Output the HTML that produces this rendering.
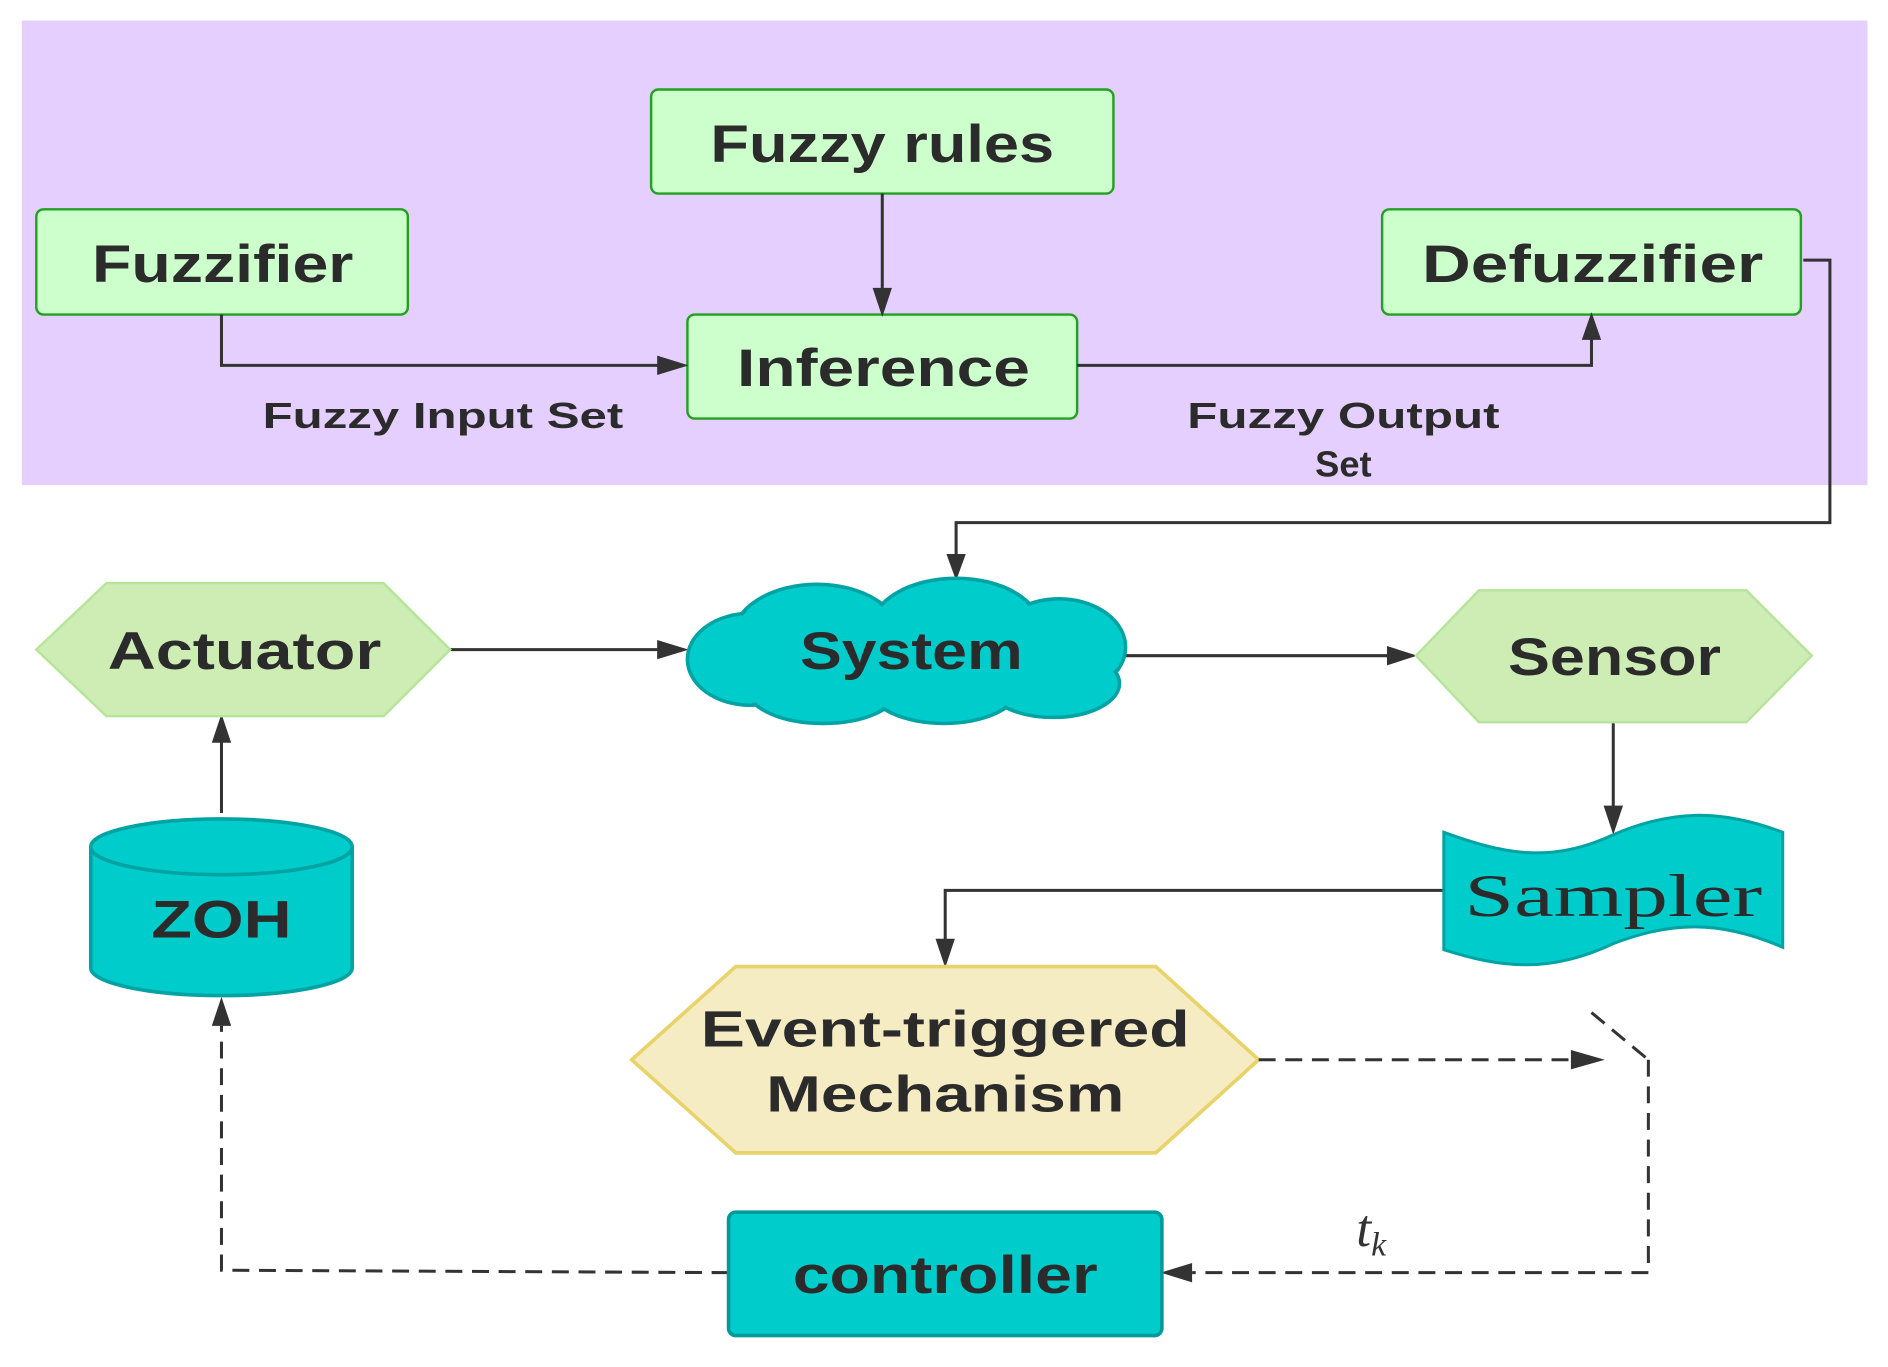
<!DOCTYPE html>
<html><head><meta charset="utf-8"><style>
html,body{margin:0;padding:0;background:#fff;}
svg{display:block;}
.t{font-family:"Liberation Sans",sans-serif;font-weight:bold;fill:#2b2b2b;text-anchor:middle;}
</style></head><body>
<svg width="1888" height="1367" viewBox="0 0 1560 1130" preserveAspectRatio="none" xmlns="http://www.w3.org/2000/svg">
<defs>
<marker id="a" markerWidth="10" markerHeight="10" refX="9" refY="5" orient="auto" markerUnits="userSpaceOnUse" viewBox="0 0 10 10">
</marker>
</defs>
<rect x="18" y="17" width="1525" height="384" fill="#e5cfff"/>
<!-- boxes top -->
<rect x="538" y="74" width="382" height="86" rx="6" fill="#ccffcc" stroke="#22a022" stroke-width="2"/>
<text class="t" x="729" y="134" font-size="44" textLength="284" lengthAdjust="spacingAndGlyphs">Fuzzy rules</text>
<rect x="30" y="173" width="307" height="87" rx="6" fill="#ccffcc" stroke="#22a022" stroke-width="2"/>
<text class="t" x="184" y="233" font-size="44" textLength="216" lengthAdjust="spacingAndGlyphs">Fuzzifier</text>
<rect x="1142" y="173" width="346" height="87" rx="6" fill="#ccffcc" stroke="#22a022" stroke-width="2"/>
<text class="t" x="1316" y="233" font-size="44" textLength="282" lengthAdjust="spacingAndGlyphs">Defuzzifier</text>
<rect x="568" y="260" width="322" height="86" rx="6" fill="#ccffcc" stroke="#22a022" stroke-width="2"/>
<text class="t" x="730" y="319" font-size="44" textLength="242" lengthAdjust="spacingAndGlyphs">Inference</text>
<text class="t" x="366" y="354" font-size="30" textLength="298" lengthAdjust="spacingAndGlyphs">Fuzzy Input Set</text>
<text class="t" x="1110" y="354" font-size="30" textLength="258" lengthAdjust="spacingAndGlyphs">Fuzzy Output</text>
<text class="t" x="1110" y="394" font-size="30">Set</text>
<g stroke="#333" stroke-width="2.5" fill="none">
<line x1="729" y1="160" x2="729" y2="240"/>
<polyline points="183,260 183,302 545,302"/>
<polyline points="890,302 1315,302 1315,280"/>
<polyline points="1490,215 1512,215 1512,432 790,432 790,460"/>
<line x1="372" y1="537" x2="545" y2="537"/>
<line x1="920" y1="542" x2="1148" y2="542"/>
<line x1="1333" y1="597" x2="1333" y2="668"/>
<polyline points="1193,736 781,736 781,778"/>
<line x1="183" y1="672" x2="183" y2="612"/>
</g>
<g fill="#333">
<polygon points="721,238 737,238 729,262"/>
<polygon points="543,294 543,310 569,302"/>
<polygon points="1307,281 1323,281 1315,258"/>
<polygon points="782,458 798,458 790,480"/>
<polygon points="543,529 543,545 569,537"/>
<polygon points="1146,534 1146,550 1171,542"/>
<polygon points="1325,666 1341,666 1333,690"/>
<polygon points="773,776 789,776 781,800"/>
<polygon points="175,614 191,614 183,590"/>
<polygon points="175,848 191,848 183,824"/>
<polygon points="1298,868 1298,884 1326,876"/>
<polygon points="985,1044 985,1060 959,1052"/>
</g>
<!-- Actuator -->
<polygon points="30,537 88,482 317,482 372,537 317,592 88,592" fill="#cdedb5" stroke="#b5e49a" stroke-width="2"/>
<text class="t" x="202" y="553" font-size="44" textLength="226" lengthAdjust="spacingAndGlyphs">Actuator</text>
<!-- Sensor -->
<polygon points="1170,542 1222,488 1443,488 1497,542 1443,597 1222,597" fill="#cdedb5" stroke="#b5e49a" stroke-width="2"/>
<text class="t" x="1334" y="558" font-size="44" textLength="176" lengthAdjust="spacingAndGlyphs">Sensor</text>
<!-- Cloud -->
<g fill="#00cccc" stroke="#00a3a3" stroke-width="3">
<ellipse cx="675" cy="528" rx="70" ry="45"/>
<ellipse cx="790" cy="520" rx="70" ry="42"/>
<ellipse cx="875" cy="535" rx="55" ry="40"/>
<ellipse cx="620" cy="545" rx="52" ry="38"/>
<ellipse cx="680" cy="570" rx="62" ry="28"/>
<ellipse cx="780" cy="568" rx="62" ry="30"/>
<ellipse cx="870" cy="565" rx="55" ry="28"/>
</g>
<g fill="#00cccc">
<ellipse cx="675" cy="528" rx="68" ry="43"/>
<ellipse cx="790" cy="520" rx="68" ry="40"/>
<ellipse cx="875" cy="535" rx="53" ry="38"/>
<ellipse cx="620" cy="545" rx="50" ry="36"/>
<ellipse cx="680" cy="570" rx="60" ry="26"/>
<ellipse cx="780" cy="568" rx="60" ry="28"/>
<ellipse cx="870" cy="565" rx="53" ry="26"/>
<rect x="620" y="520" width="260" height="50"/>
</g>
<text class="t" x="753" y="553" font-size="44" textLength="184" lengthAdjust="spacingAndGlyphs">System</text>
<!-- ZOH -->
<path d="M75,700 L75,800 A108,23 0 0 0 291,800 L291,700" fill="#00cccc" stroke="#00a3a3" stroke-width="3"/>
<ellipse cx="183" cy="700" rx="108" ry="23" fill="#00cccc" stroke="#00a3a3" stroke-width="3"/>
<text class="t" x="183" y="775" font-size="44" textLength="116" lengthAdjust="spacingAndGlyphs">ZOH</text>
<!-- Sampler -->
<path d="M1193,688 C1240,705 1280,715 1333,690 C1380,670 1420,668 1473,688 L1473,783 C1420,760 1380,762 1333,780 C1280,805 1240,800 1193,785 Z" fill="#00cccc" stroke="#00a3a3" stroke-width="2.5"/>
<text x="1333" y="757" font-family="Liberation Serif,serif" font-size="50" fill="#2b2b2b" text-anchor="middle" textLength="246" lengthAdjust="spacingAndGlyphs">Sampler</text>
<!-- Event -->
<polygon points="522,876 608,799 955,799 1040,876 955,953 608,953" fill="#f5ecc3" stroke="#e8d36a" stroke-width="3"/>
<text class="t" x="781" y="865" font-size="42" textLength="404" lengthAdjust="spacingAndGlyphs">Event-triggered</text>
<text class="t" x="781" y="919" font-size="42" textLength="296" lengthAdjust="spacingAndGlyphs">Mechanism</text>
<!-- dashed -->
<g stroke="#333" stroke-width="2.5" fill="none" stroke-dasharray="14,8">
<line x1="1040" y1="876" x2="1300" y2="876"/>
<line x1="1315" y1="837" x2="1362" y2="876"/>
<polyline points="1362,876 1362,1052 985,1052"/>
<polyline points="602,1052 183,1050 183,848"/>
</g>
<text x="1133" y="1030" font-family="Liberation Serif,serif" font-style="italic" font-size="44" fill="#333" text-anchor="middle">t<tspan font-size="28" dy="8">k</tspan></text>
<!-- controller -->
<rect x="602" y="1002" width="358" height="102" rx="6" fill="#00cccc" stroke="#009a9a" stroke-width="3"/>
<text class="t" x="781" y="1069" font-size="44" textLength="252" lengthAdjust="spacingAndGlyphs">controller</text>
</svg>
</body></html>
